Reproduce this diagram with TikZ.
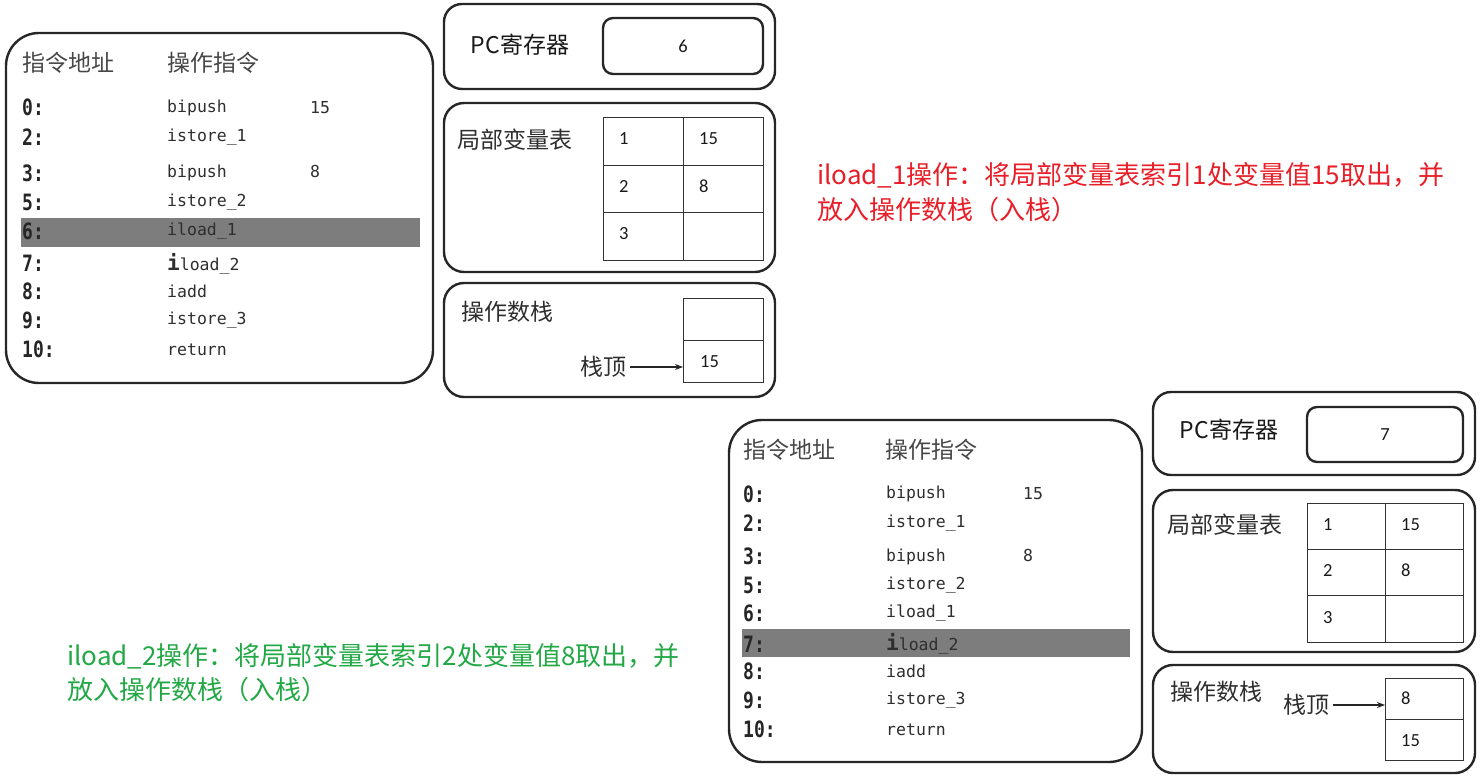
\documentclass[tikz,border=0pt]{standalone}
\usepackage{fontspec}
\usepackage{graphicx}
\usetikzlibrary{arrows.meta}
\newfontfamily\cjk{Noto Sans CJK SC}
\newfontfamily\monof{DejaVu Sans Mono}
\newfontfamily\numf{Carlito}
\definecolor{notered}{RGB}{232,30,40}
\definecolor{notegreen}{RGB}{35,168,70}
\definecolor{hlgray}{RGB}{125,125,125}
\newcommand\bigi{{\fontsize{21}{21}\selectfont\bfseries i}}
\newcommand\tallt[1]{\scalebox{1}[1.25]{#1}}
\begin{document}
\begin{tikzpicture}[x=1pt,y=-1pt,
  panel/.style={draw=black!85, line width=2.4pt},
  hl/.style={fill=hlgray},
  hdr/.style={anchor=west, inner sep=0pt, font=\cjk\fontsize{23}{23}\selectfont, text=black!72},
  lbl/.style={anchor=west, inner sep=0pt, font=\cjk\fontsize{23}{23}\selectfont, text=black!82},
  addr/.style={anchor=west, inner sep=0pt, font=\monof\bfseries\fontsize{18}{18}\selectfont, text=black!85},
  ins/.style={anchor=west, inner sep=0pt, font=\monof\fontsize{16.5}{16.5}\selectfont, text=black!82},
  num/.style={anchor=west, inner sep=0pt, font=\numf\fontsize{18.5}{18.5}\selectfont, text=black!90},
  cellbox/.style={draw=black!80, line width=1.3pt, anchor=north west, inner sep=0pt},
  pcbox/.style={draw=black!85, line width=2.4pt, rounded corners=10pt, inner sep=0pt, font=\numf\fontsize{18.5}{18.5}\selectfont, text=black!90},
  arr/.style={draw=black!85, line width=1.4pt, -{Stealth[length=8pt,width=6pt]}},
  note/.style={anchor=base west, inner sep=0pt, font=\cjk\fontsize{26}{26}\selectfont}
]
\useasboundingbox (0,0) rectangle (1482,778);

%================ TOP STATE =================
\draw[panel, rounded corners=33pt] (6,33) rectangle (433,383);
\fill[hl] (21,218) rectangle (420,247);
\node[hdr] (ta) at (22,63) {指令地址};
\node[hdr] (tb) at (167,63) {操作指令};
\foreach \a/\i/\y/\n in {0:/bipush/107.5/1, 2:/istore\_1/137.5/2, 3:/bipush/173/3, 5:/istore\_2/202/4, 6:/iload\_1/231/5, 7:/\bigi load\_2/263.5/6, 8:/iadd/291/7, 9:/istore\_3/320/8, 10:/return/349.5/9}{
  \node[addr] (tad\n) at (22,\y) {\tallt{\a}};
  \node[ins] (tin\n) at (167,\y) {\i};
}
\node[ins] (top1) at (310,107.5) {15};
\node[ins] (top3) at (310,171) {8};

% PC register
\draw[panel, rounded corners=18pt] (444,4) rectangle (775,89);
\node[lbl, anchor=center, text=black!90] (tpcl) at (520,45) {PC寄存器};
\node[pcbox, minimum width=160pt, minimum height=56pt] (tpc) at (683,46) {6};

% local variable table
\draw[panel, rounded corners=20pt] (444,103) rectangle (775,272);
\node[lbl] (tlvl) at (457,140) {局部变量表};
\node[cellbox, minimum width=80pt, minimum height=48pt] (tl11) at (603,117) {};
\node[cellbox, minimum width=80pt, minimum height=48pt] (tl12) at (683,117) {};
\node[cellbox, minimum width=80pt, minimum height=47pt] (tl21) at (603,165) {};
\node[cellbox, minimum width=80pt, minimum height=47pt] (tl22) at (683,165) {};
\node[cellbox, minimum width=80pt, minimum height=48pt] (tl31) at (603,212) {};
\node[cellbox, minimum width=80pt, minimum height=48pt] (tl32) at (683,212) {};
\node[num] (tn11) at ([xshift=16pt,yshift=3pt]tl11.west) {1};
\node[num] (tn12) at ([xshift=16pt,yshift=3pt]tl12.west) {15};
\node[num] (tn21) at ([xshift=16pt,yshift=3pt]tl21.west) {2};
\node[num] (tn22) at ([xshift=16pt,yshift=3pt]tl22.west) {8};
\node[num] (tn31) at ([xshift=16pt,yshift=3pt]tl31.west) {3};

% operand stack
\draw[panel, rounded corners=20pt] (444,283) rectangle (775,397);
\node[lbl] (tosl) at (461,312) {操作数栈};
\node[cellbox, minimum width=80pt, minimum height=42pt] (ts1) at (683,298) {};
\node[cellbox, minimum width=80pt, minimum height=42pt] (ts2) at (683,340) {};
\node[num] (tsv2) at ([xshift=17pt]ts2.west) {15};
\node[lbl, anchor=east] (ttop) at (627,367) {栈顶};
\draw[arr] ([xshift=3pt]ttop.east) -- (ttop.east -| ts2.west);

% red note
\node[note, text=notered] (rn1) at (817,185) {iload\_1操作：将局部变量表索引1处变量值15取出，并};
\node[note, text=notered] (rn2) at (817,219) {放入操作数栈（入栈）};

%================ BOTTOM STATE =================
\draw[panel, rounded corners=33pt] (729,420) rectangle (1142,762);
\fill[hl] (742,629) rectangle (1130,657);
\node[hdr] (ba) at (743,450) {指令地址};
\node[hdr] (bb) at (885,450) {操作指令};
\foreach \a/\i/\y/\n in {0:/bipush/494/1, 2:/istore\_1/523/2, 3:/bipush/556.5/3, 5:/istore\_2/585.5/4, 6:/iload\_1/613.5/5, 7:/\bigi load\_2/644/6, 8:/iadd/671/7, 9:/istore\_3/700/8, 10:/return/729.5/9}{
  \node[addr] (bad\n) at (743,\y) {\tallt{\a}};
  \node[ins] (bin\n) at (886,\y) {\i};
}
\node[ins] (bop1) at (1023,494) {15};
\node[ins] (bop3) at (1023,555) {8};

% PC register
\draw[panel, rounded corners=18pt] (1153,392) rectangle (1475,475);
\node[lbl, anchor=center, text=black!90] (bpcl) at (1229,430) {PC寄存器};
\node[pcbox, minimum width=156pt, minimum height=55pt] (bpc) at (1385,434.5) {7};

% local variable table
\draw[panel, rounded corners=20pt] (1153,490) rectangle (1475,652);
\node[lbl] (blvl) at (1167,525) {局部变量表};
\node[cellbox, minimum width=78pt, minimum height=46pt] (bl11) at (1307,503) {};
\node[cellbox, minimum width=78pt, minimum height=46pt] (bl12) at (1385,503) {};
\node[cellbox, minimum width=78pt, minimum height=46pt] (bl21) at (1307,549) {};
\node[cellbox, minimum width=78pt, minimum height=46pt] (bl22) at (1385,549) {};
\node[cellbox, minimum width=78pt, minimum height=47pt] (bl31) at (1307,595) {};
\node[cellbox, minimum width=78pt, minimum height=47pt] (bl32) at (1385,595) {};
\node[num] (bn11) at ([xshift=16pt,yshift=2pt]bl11.west) {1};
\node[num] (bn12) at ([xshift=16pt,yshift=2pt]bl12.west) {15};
\node[num] (bn21) at ([xshift=16pt,yshift=2pt]bl21.west) {2};
\node[num] (bn22) at ([xshift=16pt,yshift=2pt]bl22.west) {8};
\node[num] (bn31) at ([xshift=16pt,yshift=2pt]bl31.west) {3};

% operand stack
\draw[panel, rounded corners=20pt] (1153,665) rectangle (1475,773);
\node[lbl] (bosl) at (1170,692) {操作数栈};
\node[cellbox, minimum width=78pt, minimum height=41pt] (bs1) at (1385,678) {};
\node[cellbox, minimum width=78pt, minimum height=41pt] (bs2) at (1385,719) {};
\node[num] (bsv1) at ([xshift=16pt,yshift=1pt]bs1.west) {8};
\node[num] (bsv2) at ([xshift=16pt]bs2.west) {15};
\node[lbl, anchor=east] (btop) at (1330,705) {栈顶};
\draw[arr] ([xshift=3pt]btop.east) -- (btop.east -| bs1.west);

% green note
\node[note, text=notegreen] (gn1) at (67,665) {iload\_2操作：将局部变量表索引2处变量值8取出，并};
\node[note, text=notegreen] (gn2) at (67,699) {放入操作数栈（入栈）};
\end{tikzpicture}
\end{document}
